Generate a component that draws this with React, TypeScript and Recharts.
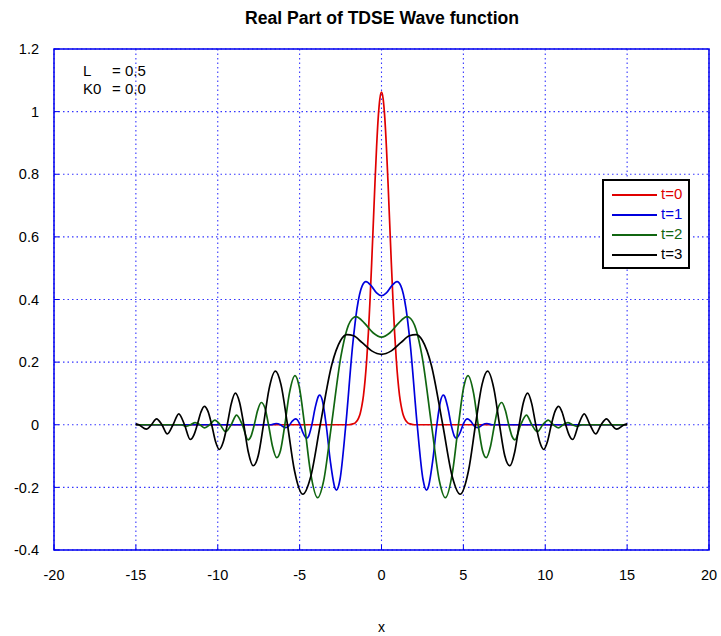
import React from 'react';
import { LineChart, Line, XAxis, YAxis, CartesianGrid, ReferenceArea } from 'recharts';

const chartTitle = 'Real Part of TDSE Wave function';
const xTicks = [-20, -15, -10, -5, 0, 5, 10, 15, 20];
const yTicks = [-0.4, -0.2, 0, 0.2, 0.4, 0.6, 0.8, 1, 1.2];
const seriesNames = ['t=0', 't=1', 't=2', 't=3'];
const paramLabels = ['L', 'K0'];
const paramValues = ['= 0.5', '= 0.0'];

const t0X = [-15, -2, -1.8, -1.6, -1.4, -1.3, -1.2, -1.1, -1, -0.9, -0.8, -0.7, -0.6, -0.5, -0.4, -0.3, -0.2, -0.1, 0,
  0.1, 0.2, 0.3, 0.4, 0.5, 0.6, 0.7, 0.8, 0.9, 1, 1.1, 1.2, 1.3, 1.4, 1.6, 1.8, 2, 15];
const t0Y = [0, 0, 0.002, 0.006, 0.021, 0.036, 0.060, 0.094, 0.144, 0.210, 0.295, 0.399, 0.517, 0.644, 0.771, 0.887, 0.981, 1.041, 1.062,
  1.041, 0.981, 0.887, 0.771, 0.644, 0.517, 0.399, 0.295, 0.210, 0.144, 0.094, 0.060, 0.036, 0.021, 0.006, 0.002, 0, 0];

const t1X = [-15, -6.75, -6.439, -6.175, -6.038, -5.898, -5.755, -5.608, -5.457, -5.26, -5.142, -4.977, -4.807, -4.58, -4.446, -4.254,
  -4.053, -3.842, -3.78, -3.618, -3.38, -3.123, -2.843, -2.75, -2.533, -2.179, -1.754, -1.5, -1.187, -0.95, -0.6, -0.3, 0,
  0.3, 0.6, 0.95, 1.187, 1.5, 1.754, 2.179, 2.533, 2.75, 2.843, 3.123, 3.38, 3.618, 3.78, 3.842, 4.053, 4.254, 4.446, 4.58,
  4.807, 4.977, 5.142, 5.26, 5.457, 5.608, 5.755, 5.898, 6.038, 6.175, 6.439, 6.75, 15];
const t1Y = [0, 0, 0.004, 0, -0.005, -0.009, -0.008, 0, 0.011, 0.019, 0.016, 0, -0.024, -0.043, -0.036, 0,
  0.054, 0.092, 0.095, 0.079, 0, -0.117, -0.202, -0.209, -0.174, 0, 0.258, 0.370, 0.443, 0.457, 0.442, 0.421, 0.412,
  0.421, 0.442, 0.457, 0.443, 0.370, 0.258, 0, -0.174, -0.209, -0.202, -0.117, 0, 0.079, 0.095, 0.092, 0.054, 0, -0.036, -0.043,
  -0.024, 0, 0.016, 0.019, 0.011, 0, -0.008, -0.009, -0.005, 0, 0.004, 0, 0];

const t2X = [-15, -12.25, -11.93, -11.66, -11.38, -11.09, -10.8, -10.49, -10.18, -9.85, -9.52, -9.18, -8.85, -8.5, -8.15, -7.973,
  -7.77, -7.562, -7.348, -7.127, -6.9, -6.665, -6.4, -6.167, -5.903, -5.626, -5.28, -5.027, -4.699, -4.346, -3.9, -3.537,
  -3.053, -2.476, -2.1, -1.714, -1.55, -1.4, -1, -0.5, 0, 0.5, 1, 1.4, 1.55, 1.714, 2.1, 2.476, 3.053, 3.537, 3.9, 4.346,
  4.699, 5.027, 5.28, 5.626, 5.903, 6.167, 6.4, 6.665, 6.9, 7.127, 7.348, 7.562, 7.77, 7.973, 8.15, 8.5, 8.85, 9.18, 9.52,
  9.85, 10.18, 10.49, 10.8, 11.09, 11.38, 11.66, 11.93, 12.25, 15];
const t2Y = [0, 0, -0.005, 0, 0.007, 0, -0.010, 0, 0.015, 0, -0.022, 0, 0.031, 0, -0.048, -0.037,
  0, 0.046, 0.071, 0.055, 0, -0.067, -0.105, -0.082, 0, 0.100, 0.157, 0.122, 0, -0.148, -0.233, -0.180,
  0, 0.219, 0.306, 0.342, 0.345, 0.342, 0.322, 0.293, 0.280, 0.293, 0.322, 0.342, 0.345, 0.342, 0.306, 0.219, 0, -0.180, -0.233, -0.148,
  0, 0.122, 0.157, 0.100, 0, -0.082, -0.105, -0.067, 0, 0.055, 0.071, 0.046, 0, -0.037, -0.048, 0, 0.031, 0, -0.022,
  0, 0.015, 0, -0.010, 0, 0.007, 0, -0.005, 0, 0];

const t3X = [-15, -14.82, -14.36, -14.05, -13.74, -13.41, -13.08, -12.73, -12.38, -12.03, -11.68, -11.46, -11.25, -11.03, -10.82,
  -10.59, -10.37, -10.14, -9.91, -9.67, -9.42, -9.18, -8.93, -8.67, -8.41, -8.135, -7.838, -7.529, -7.207, -6.87, -6.48,
  -6.141, -5.741, -5.312, -4.8, -4.328, -3.74, -3.04, -2.5, -2.12, -1.7, -1.2, -0.6, 0, 0.6, 1.2, 1.7, 2.12, 2.5, 3.04, 3.74,
  4.328, 4.8, 5.312, 5.741, 6.141, 6.48, 6.87, 7.207, 7.529, 7.838, 8.135, 8.41, 8.67, 8.93, 9.18, 9.42, 9.67, 9.91, 10.14,
  10.37, 10.59, 10.82, 11.03, 11.25, 11.46, 11.68, 12.03, 12.38, 12.73, 13.08, 13.41, 13.74, 14.05, 14.36, 14.82, 15];
const t3Y = [0.003, 0, -0.014, 0, 0.019, 0, -0.029, 0, 0.035, 0, -0.047, -0.033, 0, 0.040, 0.059,
  0.042, 0, -0.053, -0.079, -0.056, 0, 0.066, 0.101, 0.072, 0, -0.087, -0.131, -0.099, 0, 0.113, 0.171,
  0.129, 0, -0.147, -0.222, -0.167, 0, 0.191, 0.269, 0.288, 0.284, 0.263, 0.236, 0.225, 0.236, 0.263, 0.284, 0.288, 0.269, 0.191, 0,
  -0.167, -0.222, -0.147, 0, 0.129, 0.171, 0.113, 0, -0.099, -0.131, -0.087, 0, 0.072, 0.101, 0.066, 0, -0.056, -0.079, -0.053,
  0, 0.042, 0.059, 0.040, 0, -0.033, -0.047, 0, 0.035, 0, -0.029, 0, 0.019, 0, -0.014, 0, 0.003];

const colors = ['#e00000', '#0000dd', '#116611', '#000000'];

const toRows = (xs: number[], ys: number[]) => xs.map((x, i) => ({ x, y: ys[i] }));
const series = [toRows(t0X, t0Y), toRows(t1X, t1Y), toRows(t2X, t2Y), toRows(t3X, t3Y)];

const FONT = '"Liberation Sans", Arial, Helvetica, sans-serif';

export default function App() {
  return (
    <div style={{ position: 'absolute', left: 0, top: 0, width: 721, height: 636, background: '#fff', fontFamily: FONT }}>
      <div style={{ position: 'absolute', left: 0, width: 764, top: 8, textAlign: 'center', fontWeight: 'bold', fontSize: 17.6, lineHeight: '20px' }}>
        {chartTitle}
      </div>
      <LineChart width={721} height={636} margin={{ top: 49, right: 12, bottom: 0, left: 0 }}>
        <CartesianGrid stroke="#3535ff" strokeDasharray="1.5 3" strokeWidth={1.1} />
        <XAxis
          type="number"
          dataKey="x"
          domain={[-20, 20]}
          ticks={xTicks}
          height={86}
          tickSize={-5}
          tickMargin={25}
          axisLine={false}
          tickLine={{ stroke: '#0000ee' }}
          tick={{ fontSize: 14.5, fill: '#000', fontFamily: FONT }}
          allowDataOverflow
          label={{ value: 'x', position: 'insideBottom', offset: 4, fontSize: 14, fill: '#000', fontFamily: FONT }}
        />
        <YAxis
          type="number"
          domain={[-0.4, 1.2]}
          ticks={yTicks}
          width={54}
          tickSize={-5}
          tickMargin={20}
          axisLine={false}
          tickLine={{ stroke: '#0000ee' }}
          tick={{ fontSize: 14.5, fill: '#000', fontFamily: FONT }}
          allowDataOverflow
        />
        <ReferenceArea x1={-20} x2={20} y1={-0.4} y2={1.2} fill="none" fillOpacity={0} stroke="#0000ee" strokeWidth={1.5} />
        {series.map((rows, i) => (
          <Line
            key={seriesNames[i]}
            data={rows}
            dataKey="y"
            name={seriesNames[i]}
            type="monotone"
            stroke={colors[i]}
            strokeWidth={1.7}
            dot={false}
            isAnimationActive={false}
          />
        ))}
      </LineChart>
      {paramLabels.map((lab, i) => (
        <div key={lab} style={{ position: 'absolute', left: 83, top: 62 + i * 18, fontSize: 15, lineHeight: '18px', whiteSpace: 'nowrap' }}>
          <span>{lab}</span>
          <span style={{ position: 'absolute', left: 29 }}>{paramValues[i]}</span>
        </div>
      ))}
      <div style={{ position: 'absolute', left: 602, top: 179, width: 88, height: 90, boxSizing: 'border-box', border: '2px solid #000', background: '#fff' }}>
        {seriesNames.map((n, i) => (
          <div key={n}>
            <div style={{ position: 'absolute', left: 8, top: 13 + i * 20, width: 45, height: 2, background: colors[i] }} />
            <div style={{ position: 'absolute', left: 57, top: 4 + i * 20, fontSize: 15, lineHeight: '18px', color: colors[i] }}>{n}</div>
          </div>
        ))}
      </div>
    </div>
  );
}
